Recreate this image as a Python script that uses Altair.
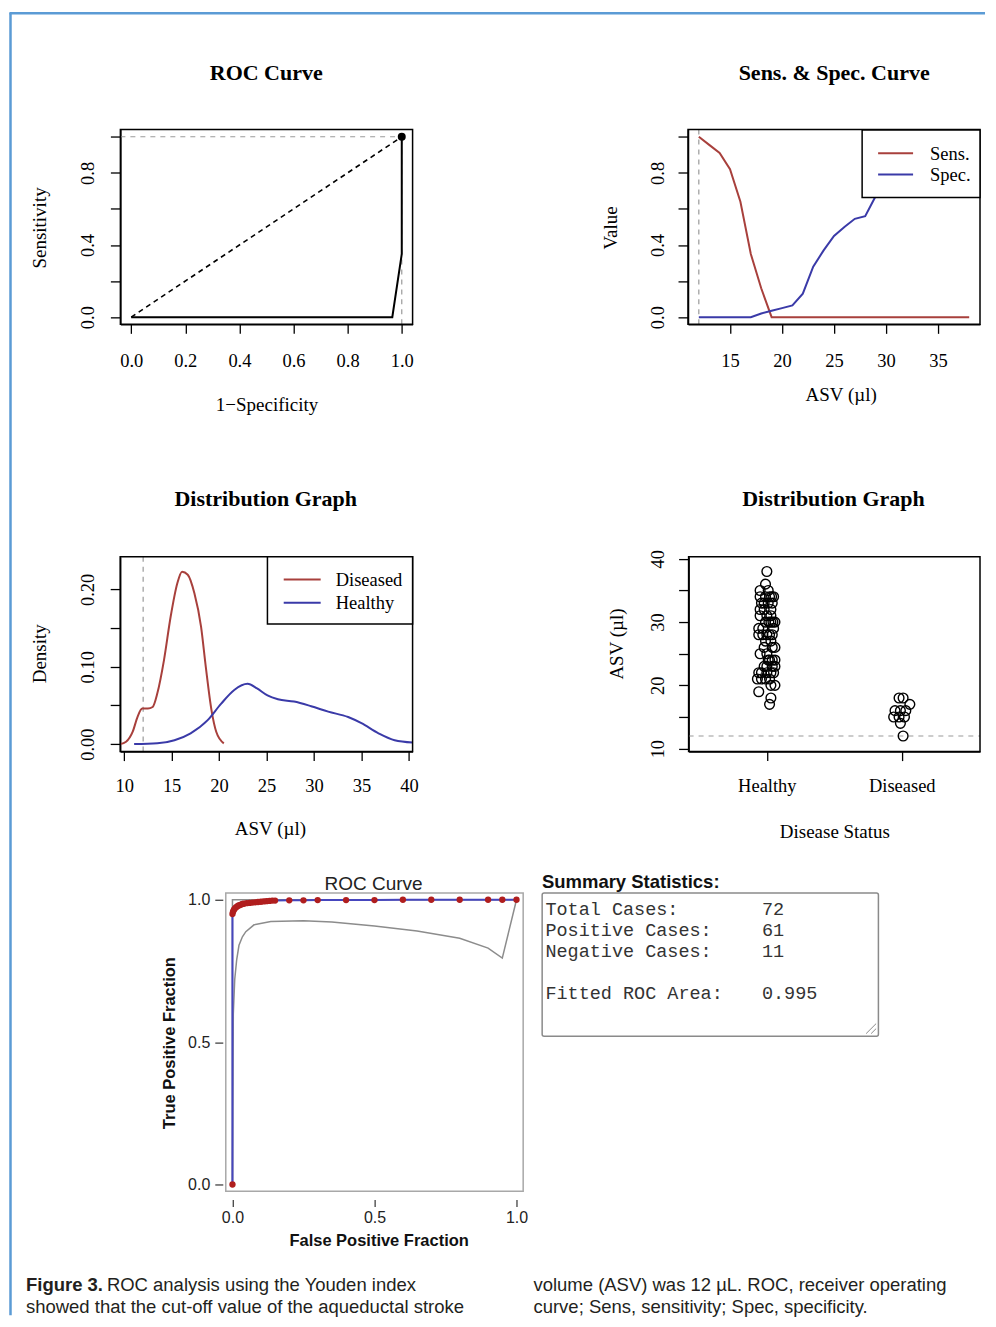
import json
import altair as alt
import pandas as pd

SERIF = "Liberation Serif"
SANS = "Liberation Sans"
MONO = "Liberation Mono"
RED = "#A8403C"
BLUE = "#3A3AA8"
FRAME_BLUE = "#5B9BD5"
GREY = "#9A9A9A"
INK = "#231F20"

WL, WR = 490, 490
ROW_H = [440, 400, 410, 52]

# ---------------- data ----------------
panel_titles = ["ROC Curve", "Sens. & Spec. Curve", "Distribution Graph", "Distribution Graph", "ROC Curve"]

# panel 1: empirical ROC
roc_fpr = [0.0, 0.965, 1.0, 1.0]
roc_sens = [0.0, 0.0, 0.35, 1.0]
best_fpr = [1.0]
best_sens = [1.0]

# panel 2: sensitivity & specificity vs ASV
ss_names = ["Sens.", "Spec."]
asv_grid = [12, 13, 14, 15, 16, 17, 18, 19, 20, 21, 22, 23, 24, 25, 26, 27, 28, 29, 30, 31, 32, 33, 34, 35, 36, 37, 38]
sens_curve = [1.0, 0.955, 0.91, 0.82, 0.64, 0.35, 0.16, 0.0, 0.0, 0.0, 0.0, 0.0, 0.0, 0.0,
              0.0, 0.0, 0.0, 0.0, 0.0, 0.0, 0.0, 0.0, 0.0, 0.0, 0.0, 0.0, 0.0]
spec_curve = [0.0, 0.0, 0.0, 0.0, 0.0, 0.0, 0.02, 0.035, 0.05, 0.065, 0.13, 0.28, 0.37, 0.45,
              0.50, 0.545, 0.56, 0.67, 0.80, 0.92, 0.97, 1.0, 1.0, 1.0, 1.0, 1.0, 1.0]
cutoff_asv = 12

# panel 3: densities
dens_names = ["Diseased", "Healthy"]
dens_dis_x = [9.58, 10.2, 10.9, 11.4, 11.9, 12.5, 13.0, 13.5, 14.2, 14.9, 15.6, 16.1, 16.7, 17.4, 18.1, 18.6, 19.2, 19.7, 20.5]
dens_dis_y = [0.0, 0.003, 0.016, 0.035, 0.046, 0.046, 0.048, 0.066, 0.109, 0.165, 0.208, 0.223, 0.219, 0.195, 0.152, 0.100, 0.044, 0.016, 0.001]
dens_hea_x = [11.05, 13.5, 15.3, 17.0, 18.8, 20.2, 21.6, 23.0, 24.0, 25.1, 26.2, 27.9, 29.7, 31.5, 33.6, 35.0, 36.8, 38.5, 40.39]
dens_hea_y = [0.0, 0.001, 0.005, 0.014, 0.031, 0.052, 0.070, 0.078, 0.072, 0.063, 0.058, 0.055, 0.049, 0.042, 0.035, 0.027, 0.014, 0.005, 0.002]

# panel 4: strip chart
status_names = ["Healthy", "Diseased"]
healthy_asv = [38, 36, 35, 35, 34, 34, 34, 34, 34, 33, 33, 33, 33, 32, 32, 32, 31, 31, 31, 30, 30, 30, 30, 30,
               29, 29, 29, 28, 28, 28, 28, 28, 27, 27, 26, 26, 26, 25, 25, 24, 24, 24, 24, 23, 23, 23, 23,
               22, 22, 22, 22, 22, 21, 21, 21, 21, 20, 20, 19, 18, 17]
healthy_jitter = [0.0, -0.01, -0.05, 0.01, -0.05, -0.01, 0.02, 0.05, 0.035, -0.02, 0.01, 0.04, -0.04, -0.05,
                  -0.02, 0.03, -0.05, 0.0, 0.03, -0.01, 0.03, 0.06, 0.045, 0.015, -0.06, -0.03, 0.05, -0.06,
                  -0.03, 0.0, 0.04, 0.02, -0.01, 0.03, -0.02, 0.04, 0.06, -0.05, 0.0, 0.01, 0.04, 0.02, 0.06,
                  -0.02, 0.0, 0.04, 0.06, -0.06, -0.04, 0.0, 0.03, 0.05, -0.07, -0.04, -0.01, 0.02, 0.03,
                  0.06, -0.06, 0.03, 0.02]
diseased_asv = [18, 18, 17, 16, 16, 16, 15, 15, 15, 14, 12]
diseased_jitter = [-0.02, 0.01, 0.06, -0.05, -0.01, 0.03, -0.06, -0.02, 0.02, -0.01, 0.01]

# panel 5: fitted ROC
fit_fpr = [0.0, 0.0, 0.002, 0.005, 0.008, 0.012, 0.016, 0.02, 0.025, 0.03, 0.035, 0.04, 0.05, 0.06, 0.07,
           0.08, 0.09, 0.10, 0.11, 0.12, 0.13, 0.14, 0.15, 0.2, 0.25, 0.3, 0.4, 0.5, 0.6, 0.7, 0.8, 0.9, 0.95, 1.0]
fit_tpr = [0.0, 0.95, 0.958, 0.964, 0.969, 0.973, 0.976, 0.979, 0.981, 0.983, 0.985, 0.986, 0.988, 0.989,
           0.990, 0.991, 0.992, 0.993, 0.994, 0.995, 0.996, 0.997, 0.997, 0.998, 0.998, 0.999, 0.999, 0.999,
           1.0, 1.0, 1.0, 1.0, 1.0, 1.0]
ci_lo_fpr = [0.0, 0.003, 0.008, 0.015, 0.023, 0.035, 0.047, 0.076, 0.135, 0.25, 0.35, 0.5, 0.65, 0.8, 0.9, 0.95, 1.0]
ci_lo_tpr = [0.0, 0.60, 0.72, 0.79, 0.84, 0.87, 0.888, 0.912, 0.924, 0.926, 0.922, 0.908, 0.89, 0.865, 0.83, 0.795, 1.0]
ci_hi_fpr = [0.0, 0.0, 1.0]
ci_hi_tpr = [0.0, 1.0, 1.0]

# summary statistics
stat_labels = ["Total Cases:", "Positive Cases:", "Negative Cases:", "Fitted ROC Area:"]
stat_values = ["72", "61", "11", "0.995"]
stat_rows = [0, 1, 2, 4]

# caption
cap_bold = "Figure 3."
cap_left = ["ROC analysis using the Youden index", "showed that the cut-off value of the aqueductal stroke"]
cap_right = ["volume (ASV) was 12 \u00b5L. ROC, receiver operating", "curve; Sens, sensitivity; Spec, specificity."]


# ---------------- helpers ----------------
def one(**kw):
    return pd.DataFrame({k: [v] for k, v in kw.items()})


def txt(s, x, y, font, size, weight="normal", align="center", color="black"):
    return alt.Chart(pd.DataFrame({"t": [s]})).mark_text(
        font=font, fontSize=size, fontWeight=weight, align=align, baseline="alphabetic", color=color
    ).encode(x=alt.value(x), y=alt.value(y), text="t:N")


def rect_box(L, R, T, B, color="black", width=1.5, radius=0, fill_opacity=0):
    return alt.Chart(one(k=0)).mark_rect(
        fill="white", fillOpacity=fill_opacity, stroke=color, strokeWidth=width, cornerRadius=radius
    ).encode(x=alt.value(L), x2=alt.value(R), y=alt.value(T), y2=alt.value(B))


def seg(x0, x1, y0, y1, color, width):
    return alt.Chart(one(k=0)).mark_rule(color=color, strokeWidth=width).encode(
        x=alt.value(x0), x2=alt.value(x1), y=alt.value(y0), y2=alt.value(y1))


def r_legend_layers(L, R, T, B, names, colors, sx0, sx1, ys, lx):
    layers = [rect_box(L, R, T, B, fill_opacity=1)]
    for name, col, y in zip(names, colors, ys):
        layers.append(seg(sx0, sx1, y, y, col, 2))
        layers.append(txt(name, lx, y + 6.3, SERIF, 18.5, align="left"))
    return layers


def r_xaxis(values, offset, pad, title, tx, ty, fmt=None, expr=None):
    kw = dict(orient="bottom", values=values, offset=offset, grid=False, domain=True,
              domainColor="black", domainWidth=1.5, ticks=True, tickColor="black", tickWidth=1.3,
              tickSize=9, labelFont=SERIF, labelFontSize=18.5, labelColor="black",
              labelAlign="center", labelBaseline="alphabetic", labelPadding=pad,
              labelOverlap=False, labelFlush=False, title=title, titleFont=SERIF, titleFontSize=19,
              titleFontWeight="normal", titleColor="black", titleAngle=0, titleAlign="center",
              titleBaseline="alphabetic", titleX=tx, titleY=ty)
    if fmt:
        kw["format"] = fmt
    if expr:
        kw["labelExpr"] = expr
    return alt.Axis(**kw)


def r_yaxis(values, shown, fmt, offset, pad, title, tx, ty):
    expr = "indexof(%s, datum.value) >= 0 ? format(datum.value, '%s') : ''" % (json.dumps(shown), fmt)
    return alt.Axis(orient="left", values=values, offset=offset, grid=False, domain=True,
                    domainColor="black", domainWidth=1.5, ticks=True, tickColor="black", tickWidth=1.3,
                    tickSize=10, labelExpr=expr, labelFont=SERIF, labelFontSize=18.5, labelColor="black",
                    labelAngle=270, labelAlign="center", labelBaseline="alphabetic", labelPadding=pad,
                    labelOverlap=False, labelFlush=False, title=title, titleFont=SERIF, titleFontSize=19,
                    titleFontWeight="normal", titleColor="black", titleAngle=270, titleAlign="center",
                    titleBaseline="alphabetic", titleX=tx, titleY=ty)


def sc(domain, rng):
    return alt.Scale(domain=domain, range=rng, nice=False, zero=False)


# ---------------- panel 1 ----------------
p1x = sc([-0.04, 1.04], [111.5, 404])
p1y = sc([-0.04, 1.04], [316, 121])
ax1x = r_xaxis([0, 0.2, 0.4, 0.6, 0.8, 1.0], -124, 33, "1\u2212Specificity", 257.8, 86, fmt=".1f")
ax1y = r_yaxis([0, 0.2, 0.4, 0.6, 0.8, 1.0], [0, 0.4, 0.8], ".1f", -111.5, 17, "Sensitivity", -74.5, 219)
X1 = lambda f: alt.X(f, scale=p1x, axis=ax1x)
Y1 = lambda f: alt.Y(f, scale=p1y, axis=ax1y)

df_roc = pd.DataFrame({"fpr": roc_fpr, "sens": roc_sens, "i": list(range(len(roc_fpr)))})
df_best = pd.DataFrame({"fpr": best_fpr, "sens": best_sens})
df_diag = pd.DataFrame({"fpr": [0.0, 1.0], "sens": [0.0, 1.0], "i": [0, 1]})
df_p1ref = pd.DataFrame({"fpr": [-0.04, best_fpr[0]], "fpr2": [best_fpr[0], best_fpr[0]],
                         "sens": [best_sens[0], -0.04], "sens2": [best_sens[0], best_sens[0]]})

p1_ref = alt.Chart(df_p1ref).mark_rule(color=GREY, strokeWidth=1.2, strokeDash=[5, 5]).encode(
    x=X1("fpr:Q"), x2="fpr2:Q", y=Y1("sens:Q"), y2="sens2:Q")
p1_diag = alt.Chart(df_diag).mark_line(color="black", strokeWidth=1.6, strokeDash=[5, 4]).encode(
    x=X1("fpr:Q"), y=Y1("sens:Q"), order="i:Q")
p1_line = alt.Chart(df_roc).mark_line(color="black", strokeWidth=2).encode(
    x=X1("fpr:Q"), y=Y1("sens:Q"), order="i:Q")
p1_pt = alt.Chart(df_best).mark_circle(color="black", size=64, opacity=1).encode(
    x=X1("fpr:Q"), y=Y1("sens:Q"))
frame_v = seg(1.5, 1.5, 4, 1308, FRAME_BLUE, 2.5)
frame_h = seg(0.5, 977, 4.5, 4.5, FRAME_BLUE, 2.5)
p1 = alt.layer(frame_v, frame_h, p1_ref, p1_diag, p1_line, p1_pt,
               rect_box(111.5, 404, 121, 316),
               txt(panel_titles[0], 257.5, 71, SERIF, 22, "bold")).properties(width=WL, height=ROW_H[0])

# ---------------- panel 2 ----------------
p2x = sc([10.96, 39.04], [189.7, 482])
p2y = sc([-0.04, 1.04], [316, 121])
ax2x = r_xaxis([15, 20, 25, 30, 35], -124, 33, "ASV (\u00b5l)", 342.5, 76, fmt="d")
ax2y = r_yaxis([0, 0.2, 0.4, 0.6, 0.8, 1.0], [0, 0.4, 0.8], ".1f", -189.7, 15, "Value", -71.7, 219)
X2 = lambda f: alt.X(f, scale=p2x, axis=ax2x)
Y2 = lambda f: alt.Y(f, scale=p2y, axis=ax2y)
n2 = len(asv_grid)
df_ss = pd.DataFrame({"asv": asv_grid + asv_grid, "val": sens_curve + spec_curve,
                      "curve": [ss_names[0]] * n2 + [ss_names[1]] * n2})
df_cut2 = pd.DataFrame({"asv": [cutoff_asv], "val": [-0.04], "val2": [1.04]})
p2_cut = alt.Chart(df_cut2).mark_rule(color=GREY, strokeWidth=1.2, strokeDash=[5, 5]).encode(
    x=X2("asv:Q"), y=Y2("val:Q"), y2="val2:Q")
p2_lines = alt.Chart(df_ss).mark_line(strokeWidth=2).encode(
    x=X2("asv:Q"), y=Y2("val:Q"),
    color=alt.Color("curve:N", scale=alt.Scale(domain=ss_names, range=[RED, BLUE]), legend=None))
p2 = alt.layer(p2_cut, p2_lines, rect_box(189.7, 482, 121, 316),
               *r_legend_layers(364, 482, 121.5, 189, ss_names, [RED, BLUE], 380, 415, [144.7, 166], 432),
               txt(panel_titles[1], 336, 71, SERIF, 22, "bold")).properties(width=WR, height=ROW_H[0])

# ---------------- panel 3 ----------------
p3x = sc([9.58, 40.39], [111.3, 404])
p3y = sc([-0.0097, 0.2422], [303.7, 108.7])
ax3x = r_xaxis([10, 15, 20, 25, 30, 35, 40], -96.3, 31.3, "ASV (\u00b5l)", 261.2, 83.3, fmt="d")
ax3y = r_yaxis([0, 0.05, 0.1, 0.15, 0.2], [0, 0.1, 0.2], ".2f", -111.3, 17, "Density", -74.3, 205.3)
X3 = lambda f: alt.X(f, scale=p3x, axis=ax3x)
Y3 = lambda f: alt.Y(f, scale=p3y, axis=ax3y)
df_dens = pd.DataFrame({
    "asv": dens_dis_x + dens_hea_x,
    "dens": dens_dis_y + dens_hea_y,
    "grp": [dens_names[0]] * len(dens_dis_x) + [dens_names[1]] * len(dens_hea_x),
    "i": list(range(len(dens_dis_x))) + list(range(len(dens_hea_x)))})
df_cut3 = pd.DataFrame({"asv": [cutoff_asv], "dens": [-0.0097], "dens2": [0.2422]})
p3_cut = alt.Chart(df_cut3).mark_rule(color=GREY, strokeWidth=1.2, strokeDash=[5, 5]).encode(
    x=X3("asv:Q"), y=Y3("dens:Q"), y2="dens2:Q")
p3_lines = alt.Chart(df_dens).mark_line(strokeWidth=2, interpolate="monotone").encode(
    x=X3("asv:Q"), y=Y3("dens:Q"),
    color=alt.Color("grp:N", scale=alt.Scale(domain=dens_names, range=[RED, BLUE]), legend=None),
    order="i:Q")
p3 = alt.layer(p3_cut, p3_lines, rect_box(111.3, 404, 108.7, 303.7),
               *r_legend_layers(258.7, 404, 108.7, 176, dens_names, [RED, BLUE], 275, 312, [131.3, 154.7], 327),
               txt(panel_titles[2], 257, 58, SERIF, 22, "bold")).properties(width=WL, height=ROW_H[1])

# ---------------- panel 4 ----------------
p4x = sc([0.42, 2.58], [190.3, 482])
p4y = sc([9.53, 40.32], [303.7, 108.7])
name_expr = "datum.value == 1 ? '%s' : (datum.value == 2 ? '%s' : '')" % (status_names[0], status_names[1])
ax4x = r_xaxis([1, 2], -96.3, 31.3, "Disease Status", 336.2, 86.3, expr=name_expr)
ax4y = r_yaxis([10, 15, 20, 25, 30, 35, 40], [10, 20, 30, 40], "d", -190.3, 15, "ASV (\u00b5l)", -66.3, 195.5)
X4 = lambda f: alt.X(f, scale=p4x, axis=ax4x)
Y4 = lambda f: alt.Y(f, scale=p4y, axis=ax4y)
df_strip = pd.DataFrame({
    "pos": [1 + j for j in healthy_jitter] + [2 + j for j in diseased_jitter],
    "asv": healthy_asv + diseased_asv})
df_cut4 = pd.DataFrame({"pos": [0.42], "pos2": [2.58], "asv": [cutoff_asv]})
p4_cut = alt.Chart(df_cut4).mark_rule(color=GREY, strokeWidth=1.2, strokeDash=[5, 5]).encode(
    x=X4("pos:Q"), x2="pos2:Q", y=Y4("asv:Q"))
p4_pts = alt.Chart(df_strip).mark_point(shape="circle", filled=False, color="black", size=95,
                                        strokeWidth=1.4, opacity=1).encode(
    x=X4("pos:Q"), y=Y4("asv:Q"))
p4 = alt.layer(p4_cut, p4_pts, rect_box(190.3, 482, 108.7, 303.7),
               txt(panel_titles[3], 335.3, 58, SERIF, 22, "bold")).properties(width=WR, height=ROW_H[1])

# ---------------- panel 5 ----------------
p5x = sc([-0.0235, 1.0235], [217, 514.7])
p5y = sc([-0.0235, 1.0235], [343.7, 45.3])
ax5x = alt.Axis(orient="bottom", values=[0, 0.5, 1.0], format=".1f", offset=-58, grid=False, domain=False,
                tickColor="#333333", tickWidth=1.2, tickSize=7, labelFont=SANS, labelFontSize=16,
                labelColor="#222222", labelAlign="center", labelBaseline="alphabetic", labelPadding=16.3,
                labelFlush=False, labelOverlap=False, title="False Positive Fraction", titleFont=SANS,
                titleFontSize=16.5, titleFontWeight="bold", titleColor="#111111", titleAngle=0,
                titleAlign="center", titleBaseline="alphabetic", titleX=370, titleY=46.5)
ax5y = alt.Axis(orient="left", values=[0, 0.5, 1.0], format=".1f", offset=-214, grid=False, domain=False,
                tickColor="#333333", tickWidth=1.2, tickSize=8, labelFont=SANS, labelFontSize=16,
                labelColor="#222222", labelAlign="right", labelBaseline="middle", labelPadding=5,
                labelFlush=False, labelOverlap=False, title="True Positive Fraction", titleFont=SANS,
                titleFontSize=16.5, titleFontWeight="bold", titleColor="#111111", titleAngle=270,
                titleAlign="center", titleBaseline="alphabetic", titleX=-48, titleY=195)
X5 = lambda f: alt.X(f, scale=p5x, axis=ax5x)
Y5 = lambda f: alt.Y(f, scale=p5y, axis=ax5y)
df_fit = pd.DataFrame({"fpr": fit_fpr, "tpr": fit_tpr, "i": list(range(len(fit_fpr)))})
df_lo = pd.DataFrame({"fpr": ci_lo_fpr, "tpr": ci_lo_tpr, "i": list(range(len(ci_lo_fpr)))})
df_hi = pd.DataFrame({"fpr": ci_hi_fpr, "tpr": ci_hi_tpr, "i": list(range(len(ci_hi_fpr)))})
p5_hi = alt.Chart(df_hi).mark_line(color="#8C8C8C", strokeWidth=1.5).encode(
    x=X5("fpr:Q"), y=Y5("tpr:Q"), order="i:Q")
p5_lo = alt.Chart(df_lo).mark_line(color="#8C8C8C", strokeWidth=1.5).encode(
    x=X5("fpr:Q"), y=Y5("tpr:Q"), order="i:Q")
p5_fit = alt.Chart(df_fit).mark_line(color="#4646BE", strokeWidth=2).encode(
    x=X5("fpr:Q"), y=Y5("tpr:Q"), order="i:Q")
p5_pts = alt.Chart(df_fit).mark_circle(color="#B01E1E", size=40, opacity=1).encode(
    x=X5("fpr:Q"), y=Y5("tpr:Q"))
p5 = alt.layer(rect_box(217, 514.7, 45.3, 343.7, color="#A8A8A8", width=1.5), p5_hi, p5_lo, p5_fit, p5_pts,
               txt(panel_titles[4], 365, 42, SANS, 19, "normal", color="#222222")).properties(
    width=WL, height=ROW_H[2])

# ---------------- panel 6: summary box ----------------
df_stats = pd.DataFrame({"label": stat_labels, "value": stat_values, "row": stat_rows})
row_scale = sc([0, 4], [67, 151.3])
p6_lab = alt.Chart(df_stats).mark_text(font=MONO, fontSize=18.5, align="left", baseline="alphabetic",
                                       color="#333333").encode(
    x=alt.value(47), y=alt.Y("row:Q", scale=row_scale, axis=None), text="label:N")
p6_val = alt.Chart(df_stats).mark_text(font=MONO, fontSize=18.5, align="left", baseline="alphabetic",
                                       color="#333333").encode(
    x=alt.value(263.7), y=alt.Y("row:Q", scale=row_scale, axis=None), text="value:N")
p6 = alt.layer(rect_box(43.7, 380.3, 45.3, 188.7, color="#8A8A8A", width=1.5, radius=2), p6_lab, p6_val,
               seg(368, 378, 186, 176, "#8A8A8A", 1), seg(373, 378, 186, 181, "#8A8A8A", 1),
               txt("Summary Statistics:", 43.5, 40.5, SANS, 18.5, "bold", align="left", color="#111111")
               ).properties(width=WR, height=ROW_H[2])

# ---------------- caption ----------------
c1 = alt.layer(
    txt(cap_bold, 17, 33.5, SANS, 18.5, "bold", align="left", color=INK),
    txt(cap_left[0], 98, 33.5, SANS, 18.5, "normal", align="left", color=INK),
    txt(cap_left[1], 17, 56, SANS, 18.5, "normal", align="left", color=INK),
).properties(width=WL, height=ROW_H[3])
c2 = alt.layer(
    txt(cap_right[0], 35, 33.5, SANS, 18.5, "normal", align="left", color=INK),
    txt(cap_right[1], 35, 56, SANS, 18.5, "normal", align="left", color=INK),
).properties(width=WR, height=ROW_H[3])

chart = alt.concat(p1, p2, p3, p4, p5, p6, c1, c2, columns=2, spacing=0, bounds="flush").resolve_scale(
    color="independent").properties(padding=0, background="white").configure_view(stroke=None)

chart.save("out.html", embed_options={"renderer": "svg", "actions": False})
